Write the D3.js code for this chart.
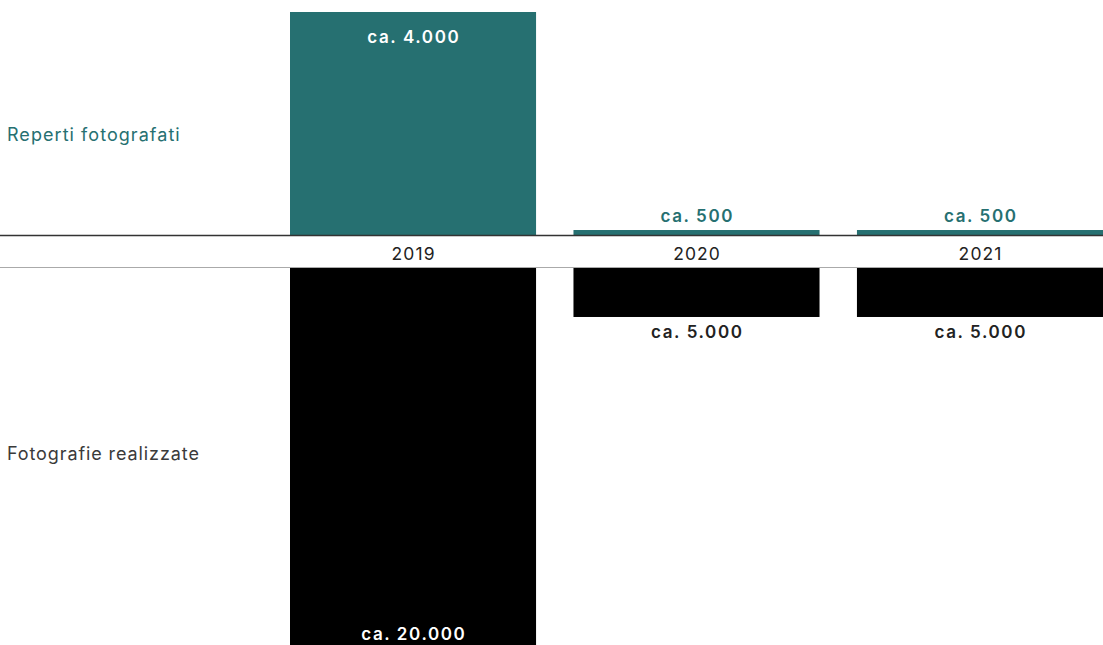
<!DOCTYPE html>
<html><head><meta charset="utf-8">
<script src="https://cdn.jsdelivr.net/npm/d3@7"></script>
<style>
html,body{margin:0;padding:0;background:#fff;}
svg{display:block;font-family:Inter,"Noto Sans",sans-serif;}
</style></head>
<body><svg id="c" width="1103" height="645"></svg>
<script>
const years = ["2019","2020","2021"];
const reperti = [4000, 500, 500];
const repertiLabels = ["ca. 4.000","ca. 500","ca. 500"];
const foto = [20000, 5000, 5000];
const fotoLabels = ["ca. 20.000","ca. 5.000","ca. 5.000"];
const seriesNames = ["Reperti fotografati","Fotografie realizzate"];

const teal = "#267071";
const svg = d3.select("#c");
const W = 1103, H = 645;
const axisTop = 235, axisBottom = 268;

const x = d3.scaleBand().domain(years).range([290, 1103]).paddingInner(0.132).paddingOuter(0);
const yTop = d3.scaleLinear().domain([420, 4000]).range([axisTop, 12]);
const yBot = d3.scaleLinear().domain([2760, 20000]).range([axisBottom, 645]);

const topData = years.map((y,i)=>({year:y, v:reperti[i], label:repertiLabels[i]}));
const botData = years.map((y,i)=>({year:y, v:foto[i], label:fotoLabels[i]}));

svg.selectAll("rect.top").data(topData).join("rect")
  .attr("x", d=>x(d.year)).attr("width", x.bandwidth())
  .attr("y", d=>yTop(d.v)).attr("height", d=>axisTop - yTop(d.v))
  .attr("fill", teal);

svg.selectAll("rect.bot").data(botData).join("rect")
  .attr("x", d=>x(d.year)).attr("width", x.bandwidth())
  .attr("y", axisBottom).attr("height", d=>yBot(d.v) - axisBottom)
  .attr("fill", "#000");

svg.append("line").attr("x1",0).attr("x2",W).attr("y1",axisTop+0.5).attr("y2",axisTop+0.5)
  .attr("stroke","#333").attr("stroke-width",1.5);
svg.append("line").attr("x1",0).attr("x2",W).attr("y1",axisBottom-0.5).attr("y2",axisBottom-0.5)
  .attr("stroke","#aaa").attr("stroke-width",1);

svg.selectAll("text.year").data(years).join("text")
  .attr("x", d=>x(d)+x.bandwidth()/2 + 0.6).attr("y", 260)
  .attr("text-anchor","middle").attr("font-size",17.5).attr("letter-spacing",1.1).attr("fill","#222")
  .text(d=>d);

svg.selectAll("text.vt").data(topData).join("text")
  .attr("x", d=>x(d.year)+x.bandwidth()/2 + 0.8)
  .attr("y", d=> (axisTop - yTop(d.v) > 60) ? yTop(d.v)+31 : yTop(d.v)-8)
  .attr("text-anchor","middle").attr("font-size",17).attr("font-weight",600).attr("letter-spacing",1.6)
  .attr("fill", d=> (axisTop - yTop(d.v) > 60) ? "#fff" : teal)
  .text(d=>d.label);

svg.selectAll("text.vb").data(botData).join("text")
  .attr("x", d=>x(d.year)+x.bandwidth()/2 + 0.8)
  .attr("y", d=> (yBot(d.v) - axisBottom > 100) ? yBot(d.v)-5 : yBot(d.v)+21)
  .attr("text-anchor","middle").attr("font-size",17).attr("font-weight",600).attr("letter-spacing",1.6)
  .attr("fill", d=> (yBot(d.v) - axisBottom > 100) ? "#fff" : "#222")
  .text(d=>d.label);

svg.append("text").attr("x",7).attr("y",141).attr("font-size",18).attr("letter-spacing",1.05)
  .attr("fill",teal).text(seriesNames[0]);
svg.append("text").attr("x",7).attr("y",460).attr("font-size",18).attr("letter-spacing",0.9)
  .attr("fill","#3a3a3a").text(seriesNames[1]);
</script></body></html>
